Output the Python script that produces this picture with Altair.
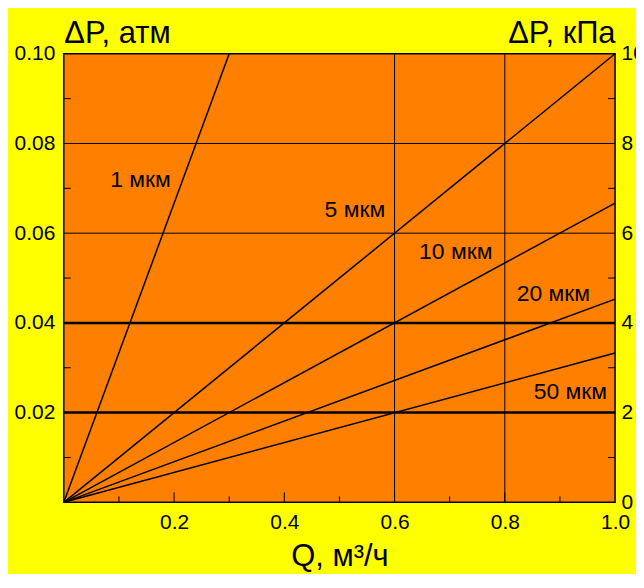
import altair as alt
import pandas as pd

# ---- data ----
series = ["1 мкм", "5 мкм", "10 мкм", "20 мкм", "50 мкм"]
q_end = [0.30, 1.0, 1.0, 1.0, 1.0]
dp_end = [0.100, 0.100, 0.0667, 0.0453, 0.0333]
label_q = [0.139, 0.528, 0.711, 0.888, 0.919]
label_dp = [0.0718, 0.0651, 0.0558, 0.0464, 0.0247]

h_grid_thick = [0.02, 0.04]
h_grid_thin = [0.06, 0.08]
v_grid = [0.6, 0.8]
x_major_ticks = [0.2, 0.4, 0.6, 0.8]
x_minor_ticks = [0.1, 0.3, 0.5, 0.7, 0.9]
atm_minor_ticks = [0.01, 0.03, 0.05, 0.07, 0.09]
kpa_minor_ticks = [1, 3, 5, 7, 9]
x_labels = [0.2, 0.4, 0.6, 0.8, 1.0]
atm_labels = [0.02, 0.04, 0.06, 0.08, 0.10]
kpa_labels = [0, 2, 4, 6, 8, 10]

W, H = 553, 450
FONT = "Liberation Sans"

rows = []
for s, qe, de in zip(series, q_end, dp_end):
    rows.append({"series": s, "q": 0.0, "dp": 0.0})
    rows.append({"series": s, "q": qe, "dp": de})
lines_df = pd.DataFrame(rows)
labels_df = pd.DataFrame({"series": series, "q": label_q, "dp": label_dp})

x_axis = alt.Axis(values=x_labels, format=".1f", ticks=False, domain=False, grid=False,
                  labelFont=FONT, labelFontSize=21, labelColor="black", labelPadding=9,
                  labelFlush=False, labelOverlap=False,
                  title="Q, м³/ч", titleFont=FONT, titleFontSize=31, titleFontWeight="normal",
                  titleColor="black", titleY=63, titleBaseline="alphabetic")
y_axis = alt.Axis(values=atm_labels, format=".2f", ticks=False, domain=False, grid=False,
                  labelFont=FONT, labelFontSize=21, labelColor="black", labelPadding=9,
                  labelFlush=False, labelOverlap=False,
                  title="ΔP, атм", titleFont=FONT, titleFontSize=31, titleFontWeight="normal",
                  titleColor="black", titleAngle=0, titleX=0, titleY=-11,
                  titleAlign="left", titleBaseline="alphabetic")
y2_axis = alt.Axis(values=kpa_labels, format="d", ticks=False, domain=False, grid=False,
                   orient="right",
                   labelFont=FONT, labelFontSize=21, labelColor="black", labelPadding=6,
                   labelFlush=False, labelOverlap=False,
                   title="ΔP, кПа", titleFont=FONT, titleFontSize=31, titleFontWeight="normal",
                   titleColor="black", titleAngle=0, titleX=0, titleY=-11,
                   titleAlign="right", titleBaseline="alphabetic")

xs = alt.Scale(domain=[0, 1], nice=False, zero=False)
ys = alt.Scale(domain=[0, 0.1], nice=False, zero=False)
ks = alt.Scale(domain=[0, 10], nice=False, zero=False)

X = alt.X("q:Q", scale=xs, axis=x_axis)
Y = alt.Y("dp:Q", scale=ys, axis=y_axis)

grid_thin = alt.Chart(pd.DataFrame({"dp": h_grid_thin})).mark_rule(
    color="black", strokeWidth=1).encode(y=Y)
grid_thick = alt.Chart(pd.DataFrame({"dp": h_grid_thick})).mark_rule(
    color="black", strokeWidth=2.5).encode(y=Y)
grid_v = alt.Chart(pd.DataFrame({"q": v_grid})).mark_rule(
    color="black", strokeWidth=1).encode(x=X)

xt_major = alt.Chart(pd.DataFrame({"q": x_major_ticks})).mark_rule(
    color="black", strokeWidth=1).encode(x=X, y=alt.value(H), y2=alt.value(H - 10))
xt_minor = alt.Chart(pd.DataFrame({"q": x_minor_ticks})).mark_rule(
    color="black", strokeWidth=1).encode(x=X, y=alt.value(H), y2=alt.value(H - 6))
yt_minor = alt.Chart(pd.DataFrame({"dp": atm_minor_ticks})).mark_rule(
    color="black", strokeWidth=1).encode(y=Y, x=alt.value(0), x2=alt.value(7))

lines = alt.Chart(lines_df).mark_line(color="black", strokeWidth=1.5).encode(
    x=X, y=Y, detail="series:N")
texts = alt.Chart(labels_df).mark_text(
    font=FONT, fontSize=23, color="black", align="center", baseline="middle").encode(
    x=X, y=Y, text="series:N")

left = alt.layer(grid_thin, grid_thick, grid_v, xt_major, xt_minor, yt_minor, lines, texts)

right = alt.Chart(pd.DataFrame({"kpa": kpa_minor_ticks})).mark_rule(
    color="black", strokeWidth=1).encode(
    y=alt.Y("kpa:Q", scale=ks, axis=y2_axis),
    x=alt.value(W - 7), x2=alt.value(W))

chart = alt.layer(left, right).resolve_scale(y="independent").properties(
    width=W, height=H,
    background="#FFFF00",
    padding={"left": 56, "top": 45, "right": 21, "bottom": 71},
    autosize=alt.AutoSizeParams(type="none"),
).configure_view(fill="#FF8000", stroke="black", strokeWidth=1.5)

chart.save("out.html", embed_options={"renderer": "svg", "actions": False})
